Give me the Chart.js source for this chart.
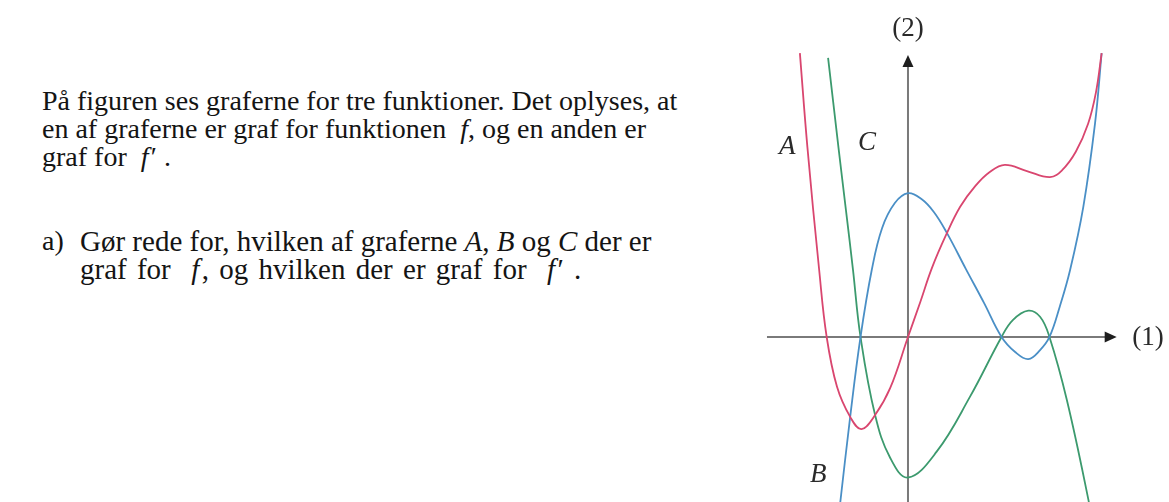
<!DOCTYPE html>
<html lang="da">
<head>
<meta charset="utf-8">
<title>Grafer for tre funktioner</title>
<script src="https://cdn.jsdelivr.net/npm/chart.js@4.4.1/dist/chart.umd.min.js"></script>
<style>
  html, body { margin: 0; padding: 0; background: #fff; }
  body { width: 1169px; height: 502px; position: relative; overflow: hidden; }
  .tekst {
    position: absolute;
    font-family: "Liberation Serif", "Times New Roman", serif;
    font-size: 28px;
    line-height: 28px;
    color: #141414;
    white-space: nowrap;
  }
  .tekst i { font-style: italic; }
  .spm { font-size: 29px; }
  .bred { word-spacing: 3px; }
  #graf { position: absolute; left: 740px; top: 0; }
</style>
</head>
<body>

<div class="tekst" style="left:42px; top:87px;">
  På figuren ses graferne for tre funktioner. Det oplyses, at<br>
  en af graferne er graf for funktionen&nbsp; <i>f</i>, og en anden er<br>
  graf for&nbsp; <i>f</i>&#8202;&#8242; .
</div>
<div class="tekst" style="left:42px; top:227px;">a)</div>
<div class="tekst spm" style="left:80px; top:227px;">
  Gør rede for, hvilken af graferne <i>A</i>, <i>B</i> og <i>C</i> der er<br>
  <span class="bred">graf for&nbsp; <i>f</i>&#8202;, og hvilken der er graf for&nbsp; <i>f</i>&#8202;&#8242; .</span>
</div>

<canvas id="graf" width="429" height="502"></canvas>

<script>
// punkter aflæst på graferne (enhed: ca. 47 px)
const grafA_x = [-2.30, -2.14, -1.89, -1.73, -1.51, -1.23, -0.99, -0.70, -0.38, 0, 0.26, 0.51, 0.81, 1.11, 1.43, 1.74, 2.06, 2.53, 3.02, 3.28, 3.57, 3.83, 4.00, 4.12];
const grafA_y = [6.04, 4.04, 1.43, 0, -1.06, -1.70, -1.96, -1.66, -1.09, 0, 0.74, 1.47, 2.17, 2.77, 3.21, 3.51, 3.66, 3.53, 3.40, 3.55, 3.94, 4.53, 5.21, 6.04];

const grafB_x = [-1.45, -1.23, -1.01, -0.77, -0.55, -0.28, 0, 0.28, 0.55, 0.83, 1.23, 1.62, 1.99, 2.28, 2.56, 2.81, 3.01, 3.23, 3.45, 3.73, 3.98, 4.12];
const grafB_y = [-3.60, -1.70, 0, 1.43, 2.32, 2.85, 3.06, 2.94, 2.66, 2.21, 1.45, 0.72, 0, -0.32, -0.47, -0.28, 0, 0.65, 1.43, 2.77, 4.55, 6.04];

const grafC_x = [-1.70, -1.48, -1.32, -1.17, -1.01, -0.70, -0.38, 0, 0.61, 1.32, 1.99, 2.23, 2.56, 2.81, 3.01, 3.38, 3.84, 3.86];
const grafC_y = [5.94, 4.04, 2.70, 1.43, 0, -1.66, -2.57, -2.99, -2.44, -1.27, 0, 0.36, 0.56, 0.43, 0, -1.34, -3.47, -3.68];

const navne = ['A', 'B', 'C'];
const akseNavne = ['(1)', '(2)'];

function punkter(xs, ys) {
  return xs.map((x, i) => ({ x: x, y: ys[i] }));
}

// akser med pile + navne på graferne
const akser = {
  id: 'akser',
  beforeDatasetsDraw(chart) {
    const { ctx, scales: { x, y } } = chart;
    const x0 = x.getPixelForValue(0);
    const y0 = y.getPixelForValue(0);
    const xSlut = x.getPixelForValue(4.44);
    const ySlut = y.getPixelForValue(6.0);
    ctx.save();
    ctx.strokeStyle = '#7a7a7a';
    ctx.lineWidth = 2;
    ctx.beginPath();
    ctx.moveTo(x.getPixelForValue(-3.0), y0);
    ctx.lineTo(xSlut - 8, y0);
    ctx.moveTo(x0, chart.height);
    ctx.lineTo(x0, ySlut + 8);
    ctx.stroke();

    ctx.fillStyle = '#1e1e1e';
    ctx.beginPath();
    ctx.moveTo(xSlut, y0);
    ctx.lineTo(xSlut - 12, y0 - 5.5);
    ctx.lineTo(xSlut - 12, y0 + 5.5);
    ctx.closePath();
    ctx.fill();
    ctx.beginPath();
    ctx.moveTo(x0, ySlut);
    ctx.lineTo(x0 - 5.5, ySlut + 12);
    ctx.lineTo(x0 + 5.5, ySlut + 12);
    ctx.closePath();
    ctx.fill();

    ctx.fillStyle = '#2a2a2a';
    ctx.font = '27px "Liberation Serif", serif';
    ctx.textBaseline = 'middle';
    ctx.textAlign = 'left';
    ctx.fillText(akseNavne[0], x.getPixelForValue(4.77), y0 + 1);
    ctx.textAlign = 'center';
    ctx.fillText(akseNavne[1], x0, y.getPixelForValue(6.55));
    ctx.restore();
  },
  afterDatasetsDraw(chart) {
    const { ctx, scales: { x, y } } = chart;
    const pos = [[-2.57, 4.04], [-1.91, -2.94], [-0.87, 4.13]];
    ctx.save();
    ctx.fillStyle = '#2a2a2a';
    ctx.font = 'italic 27px "Liberation Serif", serif';
    ctx.textAlign = 'center';
    ctx.textBaseline = 'middle';
    navne.forEach((n, i) => {
      ctx.fillText(n, x.getPixelForValue(pos[i][0]), y.getPixelForValue(pos[i][1]));
    });
    ctx.restore();
  }
};

const ctx = document.getElementById('graf').getContext('2d');
const grafer = new Chart(ctx, {
  type: 'line',
  data: {
    datasets: [
      {
        label: navne[0],
        data: punkter(grafA_x, grafA_y),
        borderColor: '#d9466f',
        borderWidth: 1.8
      },
      {
        label: navne[1],
        data: punkter(grafB_x, grafB_y),
        borderColor: '#4a8fc6',
        borderWidth: 1.8
      },
      {
        label: navne[2],
        data: punkter(grafC_x, grafC_y),
        borderColor: '#3c9a6e',
        borderWidth: 1.8
      }
    ]
  },
  options: {
    responsive: false,
    animation: false,
    elements: { point: { radius: 0 }, line: { tension: 0.4 } },
    layout: { padding: 0 },
    plugins: { legend: { display: false }, tooltip: { enabled: false } },
    scales: {
      x: { type: 'linear', min: -3.574, max: 5.553, display: false },
      y: { type: 'linear', min: -3.511, max: 7.170, display: false }
    }
  },
  plugins: [akser]
});
</script>
</body>
</html>
